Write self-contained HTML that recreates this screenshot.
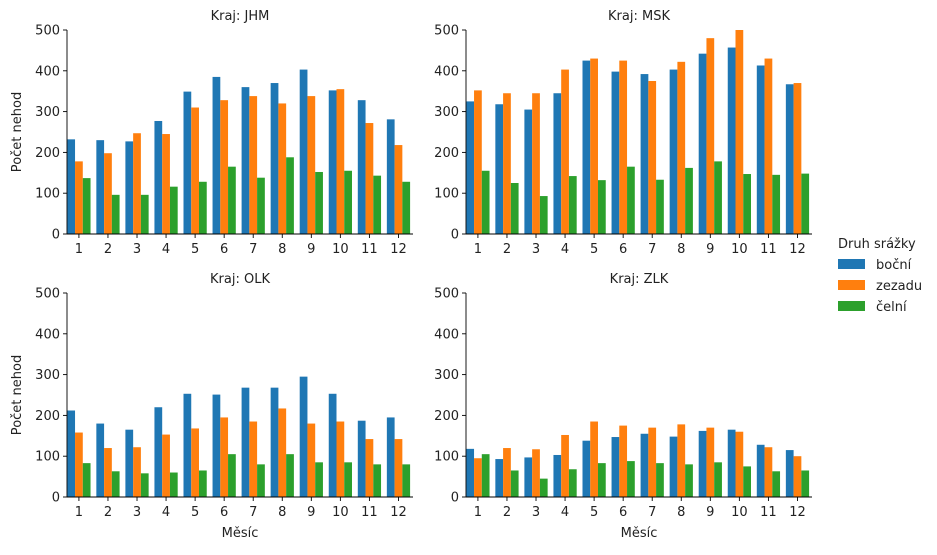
<!DOCTYPE html>
<html><head><meta charset="utf-8">
<style>
body{margin:0;background:#fff;font-family:"Liberation Sans","DejaVu Sans",sans-serif;}
svg text{font-family:"DejaVu Sans","Liberation Sans",sans-serif;fill:#222;}
</style></head>
<body>
<svg id="chart" width="937" height="550" xmlns="http://www.w3.org/2000/svg"></svg>
<script>
const months = [1,2,3,4,5,6,7,8,9,10,11,12];
const regions = ["JHM","MSK","OLK","ZLK"];
const seriesNames = ["boční","zezadu","čelní"];
const jhmBocni = [232,230,227,277,349,385,360,370,403,352,328,281];
const jhmZezadu = [178,198,247,245,310,328,338,320,338,355,272,218];
const jhmCelni = [137,96,96,116,128,165,138,188,152,155,143,128];
const mskBocni = [325,318,305,345,425,398,392,403,442,457,413,367];
const mskZezadu = [352,345,345,403,430,425,375,422,480,500,430,370];
const mskCelni = [155,125,93,142,132,165,133,162,178,147,145,148];
const olkBocni = [212,180,165,220,253,251,268,268,295,253,187,195];
const olkZezadu = [158,120,122,153,168,195,185,217,180,185,142,142];
const olkCelni = [83,63,58,60,65,105,80,105,85,85,80,80];
const zlkBocni = [118,93,97,103,138,147,155,148,162,165,128,115];
const zlkZezadu = [95,120,117,152,185,175,170,178,170,160,122,100];
const zlkCelni = [105,65,45,68,83,88,83,80,85,75,63,65];
const yTicks = [0,100,200,300,400,500];
const colors = ["#1f77b4","#ff7f0e","#2ca02c"];

const data = [[jhmBocni,jhmZezadu,jhmCelni],[mskBocni,mskZezadu,mskCelni],[olkBocni,olkZezadu,olkCelni],[zlkBocni,zlkZezadu,zlkCelni]];
const panels = [{x:67,y:30},{x:466,y:30},{x:67,y:293},{x:466,y:293}];
const W=346,H=204;
const svg=document.getElementById('chart');
const NS="http://www.w3.org/2000/svg";
function mk(tag,attrs,parent){const e=document.createElementNS(NS,tag);for(const k in attrs)e.setAttribute(k,attrs[k]);(parent||svg).appendChild(e);return e;}

panels.forEach((p,pi)=>{
  const g=mk('g',{});
  
  
  const xScale=i=>p.x+(i+0.41)*(W/11.91);
  const yScale=v=>p.y+H-v/500*H;
  const step=W/11.91, bw=step*0.8/3;
  data[pi].forEach((ser,si)=>{
    ser.forEach((v,i)=>{
      const r=mk('rect',{x:xScale(i)-step*0.4+si*bw,y:yScale(v),width:bw,height:yScale(0)-yScale(v),fill:colors[si]},g);
      
      
    });
  });
  mk('line',{x1:p.x,y1:p.y,x2:p.x,y2:p.y+H,stroke:'#000','stroke-width':0.9},g);
  mk('line',{x1:p.x,y1:p.y+H,x2:p.x+W,y2:p.y+H,stroke:'#000','stroke-width':0.9},g);
  yTicks.forEach(t=>{
    const y=yScale(t);
    mk('line',{x1:p.x-4,y1:y,x2:p.x,y2:y,stroke:'#000','stroke-width':0.9},g);
    const tx=mk('text',{x:p.x-7,y:y+4.5,'text-anchor':'end','font-size':13},g);tx.textContent=t;
  });
  months.forEach((m,i)=>{
    const x=xScale(i);
    mk('line',{x1:x,y1:p.y+H,x2:x,y2:p.y+H+4,stroke:'#000','stroke-width':0.9},g);
    const tx=mk('text',{x:x,y:p.y+H+19,'text-anchor':'middle','font-size':13},g);tx.textContent=m;
  });
  const t=mk('text',{x:p.x+W/2,y:p.y-10,'text-anchor':'middle','font-size':13},g);
  t.textContent='Kraj: '+regions[pi];
  
  
  if(pi%2===0){
    const yl=mk('text',{x:0,y:0,'text-anchor':'middle','font-size':13,transform:`translate(21,${p.y+H/2}) rotate(-90)`},g);
    yl.textContent='Počet nehod';
    
    
  }
  if(pi>=2){
    const xl=mk('text',{x:p.x+W/2,y:537,'text-anchor':'middle','font-size':13},g);
    xl.textContent='Měsíc';
    
    
  }
});
const lg=mk('g',{});


const lt=mk('text',{x:838,y:248,'font-size':13},lg);lt.textContent='Druh srážky';
seriesNames.forEach((n,i)=>{
  const y=264+i*21;
  const e=mk('g',{},lg);
  
  
  mk('rect',{x:838,y:y-5,width:27,height:10,fill:colors[i]},e);
  const tx=mk('text',{x:876,y:y+5,'font-size':13},e);tx.textContent=n;
});
</script>
</body></html>
